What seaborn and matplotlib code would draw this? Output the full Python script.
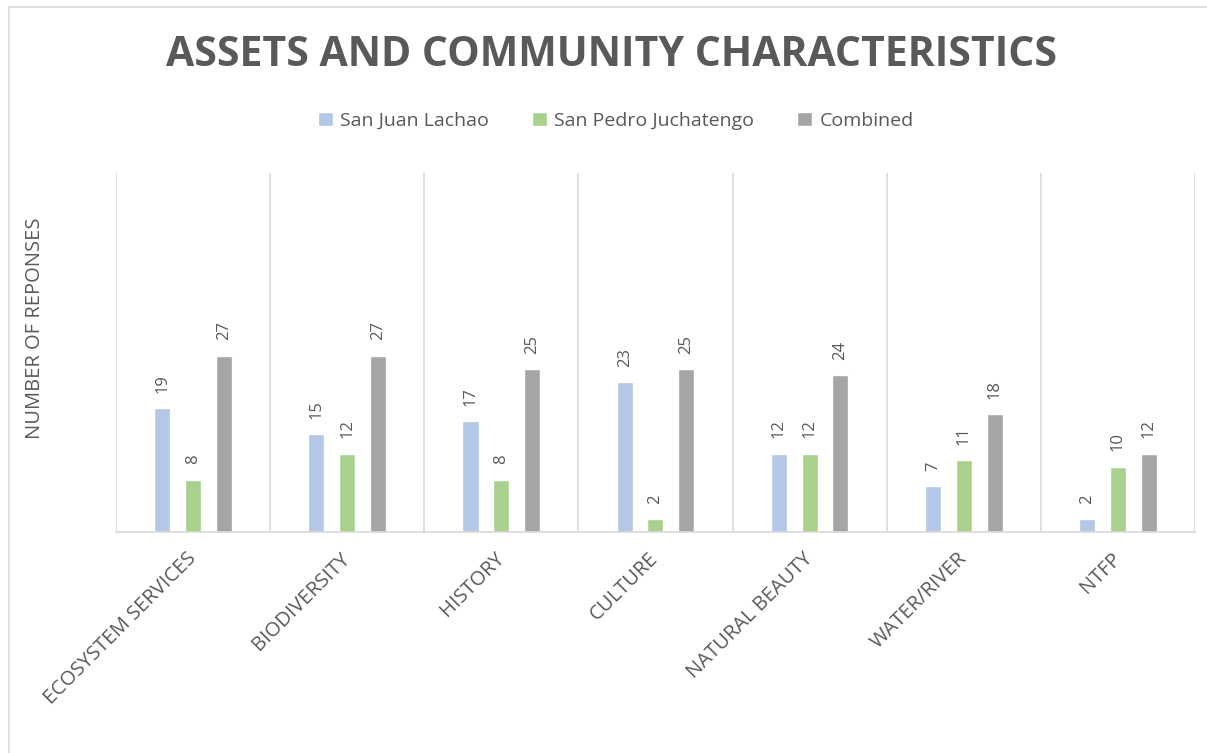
import numpy as np
import pandas as pd
import matplotlib
matplotlib.use("Agg")
import matplotlib.pyplot as plt
from matplotlib.patches import Rectangle
import seaborn as sns

# chart values
categories = ["ECOSYSTEM SERVICES", "BIODIVERSITY", "HISTORY", "CULTURE",
              "NATURAL BEAUTY", "WATER/RIVER", "NTFP"]
series_names = ["San Juan Lachao", "San Pedro Juchatengo", "Combined"]
san_juan = [19, 15, 17, 23, 12, 7, 2]
san_pedro = [8, 12, 8, 2, 12, 11, 10]
combined = [27, 27, 25, 25, 24, 18, 12]
colors = ["#B4C7E7", "#A9D18E", "#A5A5A5"]

TEXT = "#595959"
GRID = "#D9D9D9"

df = pd.DataFrame({
    "category": categories * 3,
    "series": np.repeat(series_names, len(categories)),
    "value": san_juan + san_pedro + combined,
})

sns.set_theme(style="white")
plt.rcParams["font.family"] = ["Open Sans", "DejaVu Sans"]

fig = plt.figure(figsize=(12.07, 7.53), dpi=100)
ax = fig.add_axes([0.0961, 0.2935, 0.8939, 0.4768])

sns.barplot(data=df, x="category", y="value", hue="series",
            order=categories, hue_order=series_names, palette=colors,
            width=0.6, gap=0.48, saturation=1, ax=ax, legend=False)

ax.set_ylim(0, 55)
ax.set_xlim(-0.5, len(categories) - 0.5)

# category boundary lines
ax.vlines(np.arange(len(categories) + 1) - 0.5, 0, 55, colors=GRID, lw=1.2, zorder=0)

for cont in ax.containers:
    ax.bar_label(cont, rotation=90, padding=11, fontsize=12, color=TEXT)

for s in ["top", "left", "right"]:
    ax.spines[s].set_visible(False)
ax.spines["bottom"].set_color(GRID)
ax.spines["bottom"].set_linewidth(1.2)

ax.set_yticks([])
ax.set_xlabel("")
ax.set_ylabel("")
ax.tick_params(axis="x", length=0, pad=17)
ax.set_xticks(range(len(categories)))
ax.set_xticklabels(categories, rotation=45, ha="right", va="center",
                   rotation_mode="anchor", fontsize=14.5, color=TEXT)

fig.text(35 / 1207, 1 - 328 / 753, "NUMBER OF REPONSES", rotation=90,
         ha="center", va="center", fontsize=14.5, color=TEXT)

fig.text(611 / 1207, 1 - 55 / 753, "ASSETS AND COMMUNITY CHARACTERISTICS",
         ha="center", va="center", fontsize=29.5, fontweight="bold", color=TEXT)

# legend
handles = [Rectangle((0, 0), 1, 1, facecolor=c) for c in colors]
fig.legend(handles, series_names, loc="center", bbox_to_anchor=(616 / 1207, 1 - 121 / 753),
           ncol=3, frameon=False, fontsize=14, labelcolor=TEXT,
           handlelength=0.75, handleheight=0.75, handletextpad=0.4, columnspacing=2.2)

# outer chart border
fig.patches.append(Rectangle((9 / 1207, -0.1), 1.2, 1.1 - 7.5 / 753, transform=fig.transFigure,
                             fill=False, edgecolor=GRID, lw=1.2))

fig.savefig("out.png", dpi=100)
